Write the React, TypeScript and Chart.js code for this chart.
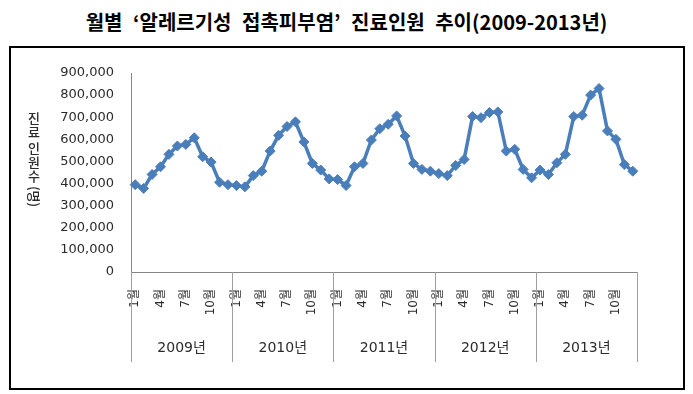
import React, { useEffect, useRef } from 'react';
import { Chart, registerables } from 'chart.js';

Chart.register(...registerables);

const titleText = '월별 ‘알레르기성 접촉피부염’ 진료인원 추이(2009-2013년)';
const yAxisTitleParts = ['진', '료', '인', '원', '수', '(명)'];

const years = ['2009', '2010', '2011', '2012', '2013'];
const months = [1, 2, 3, 4, 5, 6, 7, 8, 9, 10, 11, 12];
const labeledMonths = [1, 4, 7, 10];

const patients2009 = [395000, 378000, 441000, 476000, 532000, 570000, 577000, 607000, 521000, 497000, 406000, 395000];
const patients2010 = [391000, 385000, 436000, 456000, 547000, 618000, 658000, 679000, 588000, 491000, 461000, 421000];
const patients2011 = [418000, 391000, 476000, 491000, 597000, 648000, 668000, 706000, 615000, 491000, 464000, 456000];
const patients2012 = [445000, 436000, 482000, 509000, 703000, 698000, 721000, 724000, 547000, 555000, 464000, 426000];
const patients2013 = [461000, 441000, 494000, 532000, 703000, 709000, 800000, 830000, 638000, 600000, 486000, 456000];

const yMin = 0;
const yMax = 900000;
const yStep = 100000;

const categories = years.flatMap((y) => months.map((m) => `${y}-${m}`));
const values = [...patients2009, ...patients2010, ...patients2011, ...patients2012, ...patients2013];

const lineColor = '#4a7ebb';
const axisColor = '#868686';
const textColor = '#2b2b2b';

const yearGroupPlugin = {
  id: 'yearGroups',
  afterDraw(chart: any) {
    const xs = chart.scales.x;
    const ctx = chart.ctx;
    const step = xs.getPixelForValue(1) - xs.getPixelForValue(0);
    const top = xs.top;
    const bottom = xs.top + 90;
    ctx.save();
    ctx.strokeStyle = '#a0a0a0';
    ctx.lineWidth = 1;
    for (let i = 0; i <= years.length; i++) {
      const px = Math.round(xs.getPixelForValue(i * months.length) - step / 2) + 0.5;
      ctx.beginPath();
      ctx.moveTo(px, top);
      ctx.lineTo(px, bottom);
      ctx.stroke();
    }
    ctx.fillStyle = textColor;
    ctx.font = '14px "DejaVu Sans", "Noto Sans CJK KR", sans-serif';
    ctx.textAlign = 'center';
    ctx.textBaseline = 'middle';
    years.forEach((y, i) => {
      const a = xs.getPixelForValue(i * months.length);
      const b = xs.getPixelForValue(i * months.length + months.length - 1);
      ctx.fillText(`${y}년`, (a + b) / 2, top + 76);
    });
    ctx.restore();
  },
};

const yTitlePlugin = {
  id: 'yStackedTitle',
  afterDraw(chart: any) {
    const ctx = chart.ctx;
    const ys = chart.scales.y;
    const cx = 34;
    const mid = (ys.top + ys.bottom) / 2;
    const start = mid - 54;
    ctx.save();
    ctx.fillStyle = textColor;
    ctx.font = '500 13px "Noto Sans CJK KR", sans-serif';
    ctx.textAlign = 'center';
    ctx.textBaseline = 'middle';
    const offsets = [0, 14, 30, 44, 58];
    yAxisTitleParts.forEach((p, i) => {
      if (i < offsets.length) {
        ctx.fillText(p, cx, start + offsets[i]);
      } else {
        ctx.save();
        ctx.translate(cx, start + 78);
        ctx.rotate(Math.PI / 2);
        ctx.fillText(p, 0, 0);
        ctx.restore();
      }
    });
    ctx.restore();
  },
};

export default function App() {
  const canvasRef = useRef<HTMLCanvasElement | null>(null);

  useEffect(() => {
    if (!canvasRef.current) return;
    const chart = new Chart(canvasRef.current, {
      type: 'line',
      data: {
        labels: categories,
        datasets: [
          {
            label: '진료인원',
            data: values,
            borderColor: lineColor,
            backgroundColor: lineColor,
            borderWidth: 3.5,
            pointStyle: 'rectRot',
            pointRadius: 5,
            pointBorderWidth: 1,
            pointBackgroundColor: lineColor,
            pointBorderColor: lineColor,
            tension: 0,
          },
        ],
      },
      options: {
        responsive: false,
        animation: false,
        layout: { padding: { top: 73, right: 56, left: 0, bottom: 0 } },
        plugins: {
          legend: { display: false },
          title: { display: false },
          tooltip: { enabled: false },
        },
        scales: {
          x: {
            type: 'category',
            offset: true,
            grid: { display: false, drawTicks: false },
            border: { display: true, color: axisColor, width: 1 },
            ticks: {
              autoSkip: false,
              minRotation: 90,
              maxRotation: 90,
              padding: 17,
              color: textColor,
              font: { family: '"DejaVu Sans", "Noto Sans CJK KR", sans-serif', size: 12 },
              callback: (_v: any, index: number) => {
                const m = months[index % months.length];
                return labeledMonths.includes(m) ? `${m}월` : '';
              },
            },
            afterFit: (scale: any) => {
              scale.height = 122;
            },
          },
          y: {
            min: yMin,
            max: yMax,
            grid: { display: false, drawTicks: false },
            border: { display: true, color: axisColor, width: 1 },
            ticks: {
              stepSize: yStep,
              padding: 17,
              color: textColor,
              font: { family: '"DejaVu Sans", sans-serif', size: 13 },
              callback: (v: any) => Number(v).toLocaleString('en-US'),
            },
            afterFit: (scale: any) => {
              scale.width = 131;
            },
          },
        },
      },
      plugins: [yearGroupPlugin, yTitlePlugin],
    });
    return () => chart.destroy();
  }, []);

  return (
    <div style={{ position: 'absolute', left: 0, top: 0, width: 693, height: 394, background: '#fff' }}>
      <div
        style={{
          position: 'absolute',
          left: 0,
          top: 8,
          width: 693,
          textAlign: 'center',
          fontFamily: '"Noto Sans CJK KR", sans-serif',
          fontWeight: 'bold',
          fontSize: 20,
          lineHeight: '28px',
          wordSpacing: 6,
          color: '#000',
          whiteSpace: 'nowrap',
        }}
      >
        {titleText}
      </div>
      <div
        style={{
          position: 'absolute',
          left: 9,
          top: 46,
          width: 672,
          height: 340,
          border: '2px solid #000',
        }}
      />
      <canvas ref={canvasRef} width={693} height={394} style={{ position: 'absolute', left: 0, top: 0 }} />
    </div>
  );
}
